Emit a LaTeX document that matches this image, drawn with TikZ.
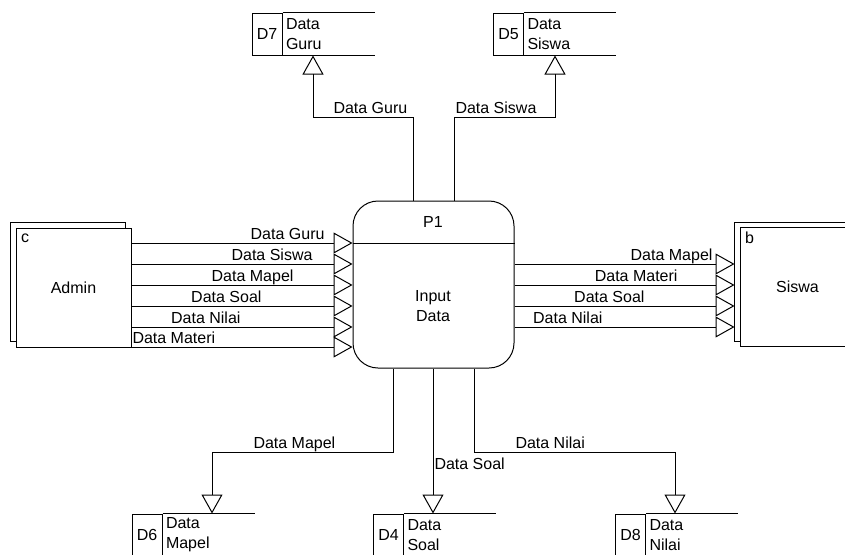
\documentclass[tikz,border=0pt]{standalone}
\usepackage{fontspec}
\setmainfont{Liberation Sans}
\usetikzlibrary{positioning, arrows.meta, shadows}

\begin{document}
\begin{tikzpicture}[x=1pt, y=-1pt, line width=1pt,
    font=\fontsize{16}{20}\selectfont,
    entity/.style={draw, fill=white, minimum width=115pt, minimum height=119pt, inner sep=0pt,
      copy shadow={shadow xshift=-5.5pt, shadow yshift=5.5pt}},
    process/.style={draw, rounded corners=25pt, minimum width=161pt, minimum height=167pt},
    storeid/.style={draw, minimum width=30pt, minimum height=42pt, inner sep=0pt},
    storename/.style={minimum width=91pt, minimum height=42pt, text width=85pt, inner sep=3pt, align=left},
    lbl/.style={inner sep=0pt},
    flow/.style={-{Triangle[open, length=19pt, width=21pt]}}]
  \useasboundingbox (0,0) rectangle (845,554);
  \clip (0,0) rectangle (845,554);

  % external entities
  \node (admin) [entity] at (73.5,287.5) {Admin};
  \node (admintag) [lbl, anchor=base west] at ([shift={(5,15)}]admin.north west) {c};
  \node (siswa) [entity] at (797.5,287) {Siswa};
  \node (siswatag) [lbl, anchor=base west] at ([shift={(5,16)}]siswa.north west) {b};

  % process
  \node (p1) [process] at (433.5,284.5) {};
  \draw (p1.west |- 0,243) -- (p1.east |- 0,243);
  \node (p1id) [lbl] at (433,222) {P1};
  \node (p1name) [lbl, align=center] at (433,306) {Input\\Data};

  % data stores
  \node (d7) [storeid] at (267,34) {D7};
  \node (d7name) [storename, right=0pt of d7] {Data\\Guru};
  \draw (d7.north east) -- (d7name.north east);
  \draw (d7.south east) -- (d7name.south east);

  \node (d5) [storeid] at (508.5,34) {D5};
  \node (d5name) [storename, right=0pt of d5] {Data\\Siswa};
  \draw (d5.north east) -- (d5name.north east);
  \draw (d5.south east) -- (d5name.south east);

  \node (d6) [storeid] at (147,535) {D6};
  \node (d6name) [storename, right=0pt of d6] {Data\\Mapel};
  \draw (d6.north east) -- (d6name.north east);
  \draw (d6.south east) -- (d6name.south east);

  \node (d4) [storeid] at (388.5,535) {D4};
  \node (d4name) [storename, right=0pt of d4] {Data\\Soal};
  \draw (d4.north east) -- (d4name.north east);
  \draw (d4.south east) -- (d4name.south east);

  \node (d8) [storeid] at (630.5,535) {D8};
  \node (d8name) [storename, right=0pt of d8] {Data\\Nilai};
  \draw (d8.north east) -- (d8name.north east);
  \draw (d8.south east) -- (d8name.south east);

  % admin -> P1
  \draw [flow] (admin.east |- 0,243) -- (p1.west |- 0,243);
  \draw [flow] (admin.east |- 0,264) -- (p1.west |- 0,264);
  \draw [flow] (admin.east |- 0,285) -- (p1.west |- 0,285);
  \draw [flow] (admin.east |- 0,306) -- (p1.west |- 0,306);
  \draw [flow] (admin.east |- 0,327) -- (p1.west |- 0,327);
  \draw [flow] (admin.east |- 0,347) -- (p1.west |- 0,347);
  \node (inguru) [lbl, anchor=base east] at (325,239) {Data Guru};
  \node (insiswa) [lbl, anchor=base east] at (313,260) {Data Siswa};
  \node (inmapel) [lbl, anchor=base east] at (294,281) {Data Mapel};
  \node (insoal) [lbl, anchor=base east] at (262,302) {Data Soal};
  \node (innilai) [lbl, anchor=base east] at (241,323) {Data Nilai};
  \node (inmateri) [lbl, anchor=base west] at (132,343) {Data Materi};

  % P1 -> siswa
  \draw [flow, shorten >=5pt] (p1.east |- 0,264) -- (siswa.west |- 0,264);
  \draw [flow, shorten >=5pt] (p1.east |- 0,285) -- (siswa.west |- 0,285);
  \draw [flow, shorten >=5pt] (p1.east |- 0,306) -- (siswa.west |- 0,306);
  \draw [flow, shorten >=5pt] (p1.east |- 0,327) -- (siswa.west |- 0,327);
  \node (outmapel) [lbl, anchor=base east] at (713,260) {Data Mapel};
  \node (outmateri) [lbl, anchor=base east] at (678,281) {Data Materi};
  \node (outsoal) [lbl, anchor=base east] at (645,302) {Data Soal};
  \node (outnilai) [lbl, anchor=base east] at (603,323) {Data Nilai};

  % P1 -> stores above
  \draw [flow] (p1.north -| 413,0) |- (313,117) -- (d7name.south -| 313,0);
  \draw [flow] (p1.north -| 454,0) |- (555,117) -- (d5name.south -| 555,0);
  \node (toguru) [lbl, anchor=base west] at (333,113) {Data Guru};
  \node (tosiswa) [lbl, anchor=base west] at (455,113) {Data Siswa};

  % P1 -> stores below
  \draw [flow] (p1.south -| 393,0) |- (212,452) -- (d6name.north -| 212,0);
  \draw [flow] (p1.south -| 433,0) -- (d4name.north -| 433,0);
  \draw [flow] (p1.south -| 474,0) |- (675,452) -- (d8name.north -| 675,0);
  \node (tomapel) [lbl, anchor=base west] at (253,448) {Data Mapel};
  \node (tosoal) [lbl, anchor=base west] at (434,469) {Data Soal};
  \node (tonilai) [lbl, anchor=base west] at (515,448) {Data Nilai};
\end{tikzpicture}
\end{document}
